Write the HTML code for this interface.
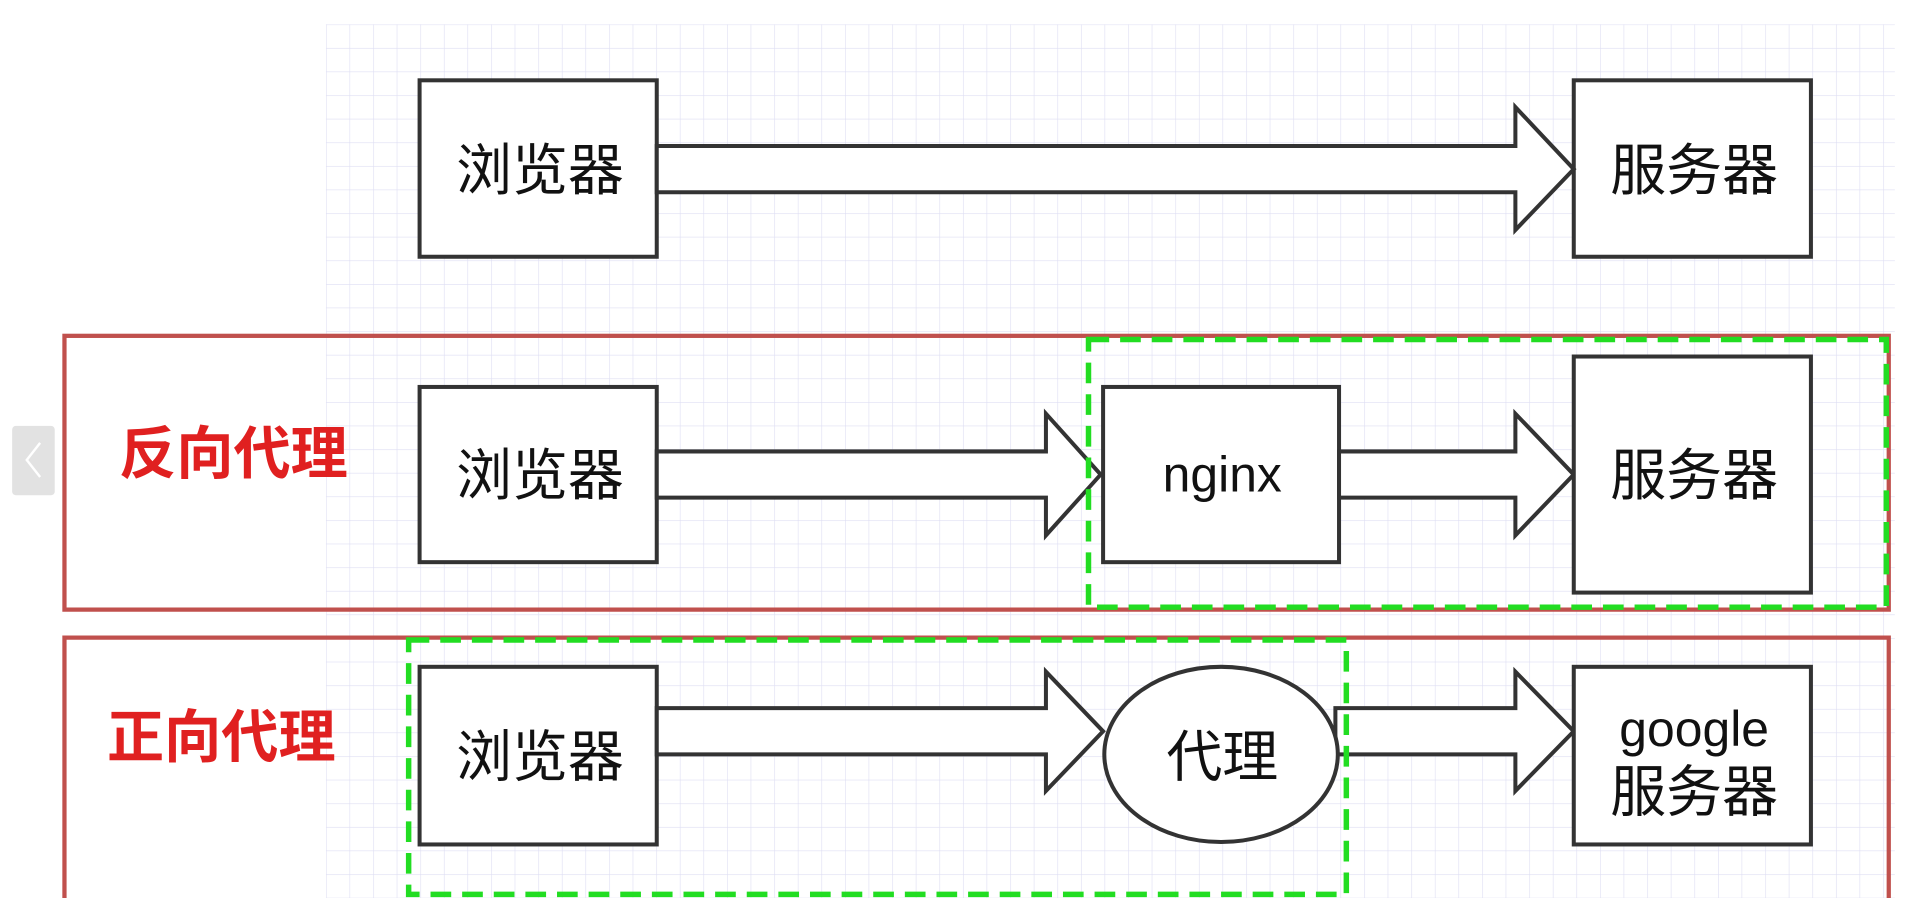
<!DOCTYPE html>
<html><head><meta charset="utf-8"><style>
html,body{margin:0;padding:0;background:#fff;width:1907px;height:898px;overflow:hidden}
svg{display:block}
text{font-family:"Liberation Sans","Noto Sans CJK SC",sans-serif}
</style></head><body>
<svg width="1907" height="898" viewBox="0 0 1568 738" preserveAspectRatio="none" xmlns="http://www.w3.org/2000/svg">
<defs>
<pattern id="g" x="268" y="20" width="19.4" height="19.4" patternUnits="userSpaceOnUse">
<path d="M0 0H19.4M0 0V19.4" stroke="#dedef3" stroke-width="1" fill="none"/>
</pattern>
</defs>
<rect x="268" y="20" width="1290" height="718" fill="url(#g)"/>
<g stroke="#333" stroke-width="3.3" fill="#fff">
<rect x="345" y="66" width="195" height="145"/>
<rect x="1294" y="66" width="195" height="145"/>
<path d="M540 120H1246V88L1294 139L1246 189V158H540Z"/>
<rect x="345" y="318" width="195" height="144"/>
<path d="M540 371H860V340L905 390L860 440V409H540Z"/>
<rect x="907" y="318" width="194" height="144"/>
<path d="M1101 371H1246V340L1294 390L1246 440V409H1101Z"/>
<rect x="1294" y="293" width="195" height="194"/>
<rect x="345" y="548" width="195" height="146"/>
<path d="M540 582H860V552L907 601L860 650V620H540Z"/>
<path d="M1098 582H1246V552L1294 601L1246 650V620H1098Z"/>
<ellipse cx="1004" cy="620" rx="96" ry="72"/>
<rect x="1294" y="548" width="195" height="146"/>
</g>
<g fill="none">
<rect x="53" y="276" width="1500" height="225" stroke="#c0504d" stroke-width="3.5"/>
<path d="M53 760V524H1553V760" stroke="#c0504d" stroke-width="3.5"/>
<rect x="895" y="279" width="656" height="220" stroke="#22dd22" stroke-width="4.5" stroke-dasharray="17,9"/>
<rect x="336" y="526" width="771" height="209" stroke="#22dd22" stroke-width="4.5" stroke-dasharray="17,9"/>
</g>
<rect x="10" y="350" width="35" height="57" rx="3" fill="#e2e2e2"/>
<path d="M33 364L22 378L33 392" stroke="#fff" stroke-width="2" fill="none"/>
<g font-size="46" fill="#111" text-anchor="middle">
<text x="444" y="156">浏览器</text>
<text x="1393" y="156">服务器</text>
<text x="444" y="407">浏览器</text>
<text x="1005" y="404" font-size="41">nginx</text>
<text x="1393" y="407">服务器</text>
<text x="444" y="638">浏览器</text>
<text x="1005" y="638">代理</text>
<text x="1393" y="613" font-size="41">google</text>
<text x="1393" y="667">服务器</text>
</g>
<g font-size="47" font-weight="bold" fill="#e02020">
<text x="98" y="389">反向代理</text>
<text x="88" y="622">正向代理</text>
</g>
</svg>
</body></html>
